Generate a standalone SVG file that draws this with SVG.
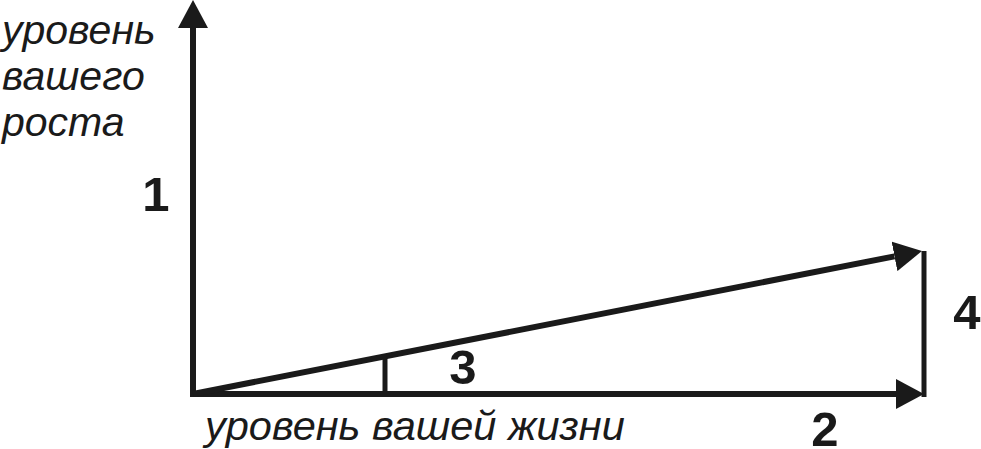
<svg xmlns="http://www.w3.org/2000/svg" width="981" height="449" viewBox="0 0 981 449">
  <style>
    .ln { stroke: #1a1a1a; stroke-width: 6; fill: none; }
    .thin { stroke: #1a1a1a; stroke-width: 5; fill: none; }
    .lbl { font-family: "Liberation Sans", Arial, sans-serif; font-style: italic; font-size: 41px; fill: #1a1a1a; }
    .num { font-family: "Liberation Sans", Arial, sans-serif; font-weight: bold; font-size: 49px; fill: #1a1a1a; text-anchor: middle; }
  </style>
  <defs>
    <marker id="arrow" markerUnits="userSpaceOnUse" viewBox="0 0 28 30" refX="0" refY="15" markerWidth="28" markerHeight="30" orient="auto">
      <path d="M0,0 L28,15 L0,30 z" fill="#1a1a1a"/>
    </marker>
  </defs>
  <rect width="981" height="449" fill="#ffffff"/>
  <g id="connectors">
    <line id="axis-y" class="ln" x1="193" y1="397" x2="193" y2="28" marker-end="url(#arrow)"/>
    <line id="axis-x" class="ln" x1="190" y1="394" x2="896" y2="394" marker-end="url(#arrow)"/>
    <line id="diagonal" class="ln" x1="193" y1="394" x2="894.5" y2="256.4" marker-end="url(#arrow)"/>
    <line id="tick-3" class="thin" x1="385" y1="394" x2="385" y2="355"/>
    <line id="side-4" class="thin" x1="924" y1="251" x2="924" y2="397"/>
  </g>
  <g id="label-growth">
    <text class="lbl" x="2" y="44">уровень</text>
    <text class="lbl" x="2" y="90">вашего</text>
    <text class="lbl" x="2" y="136">роста</text>
  </g>
  <g id="label-life">
    <text class="lbl" x="205" y="440" style="font-size:41.5px">уровень вашей жизни</text>
  </g>
  <g id="num-1"><text class="num" x="156" y="211">1</text></g>
  <g id="num-2"><text class="num" x="825" y="446">2</text></g>
  <g id="num-3"><text class="num" x="463" y="384">3</text></g>
  <g id="num-4"><text class="num" x="967" y="329">4</text></g>
</svg>
